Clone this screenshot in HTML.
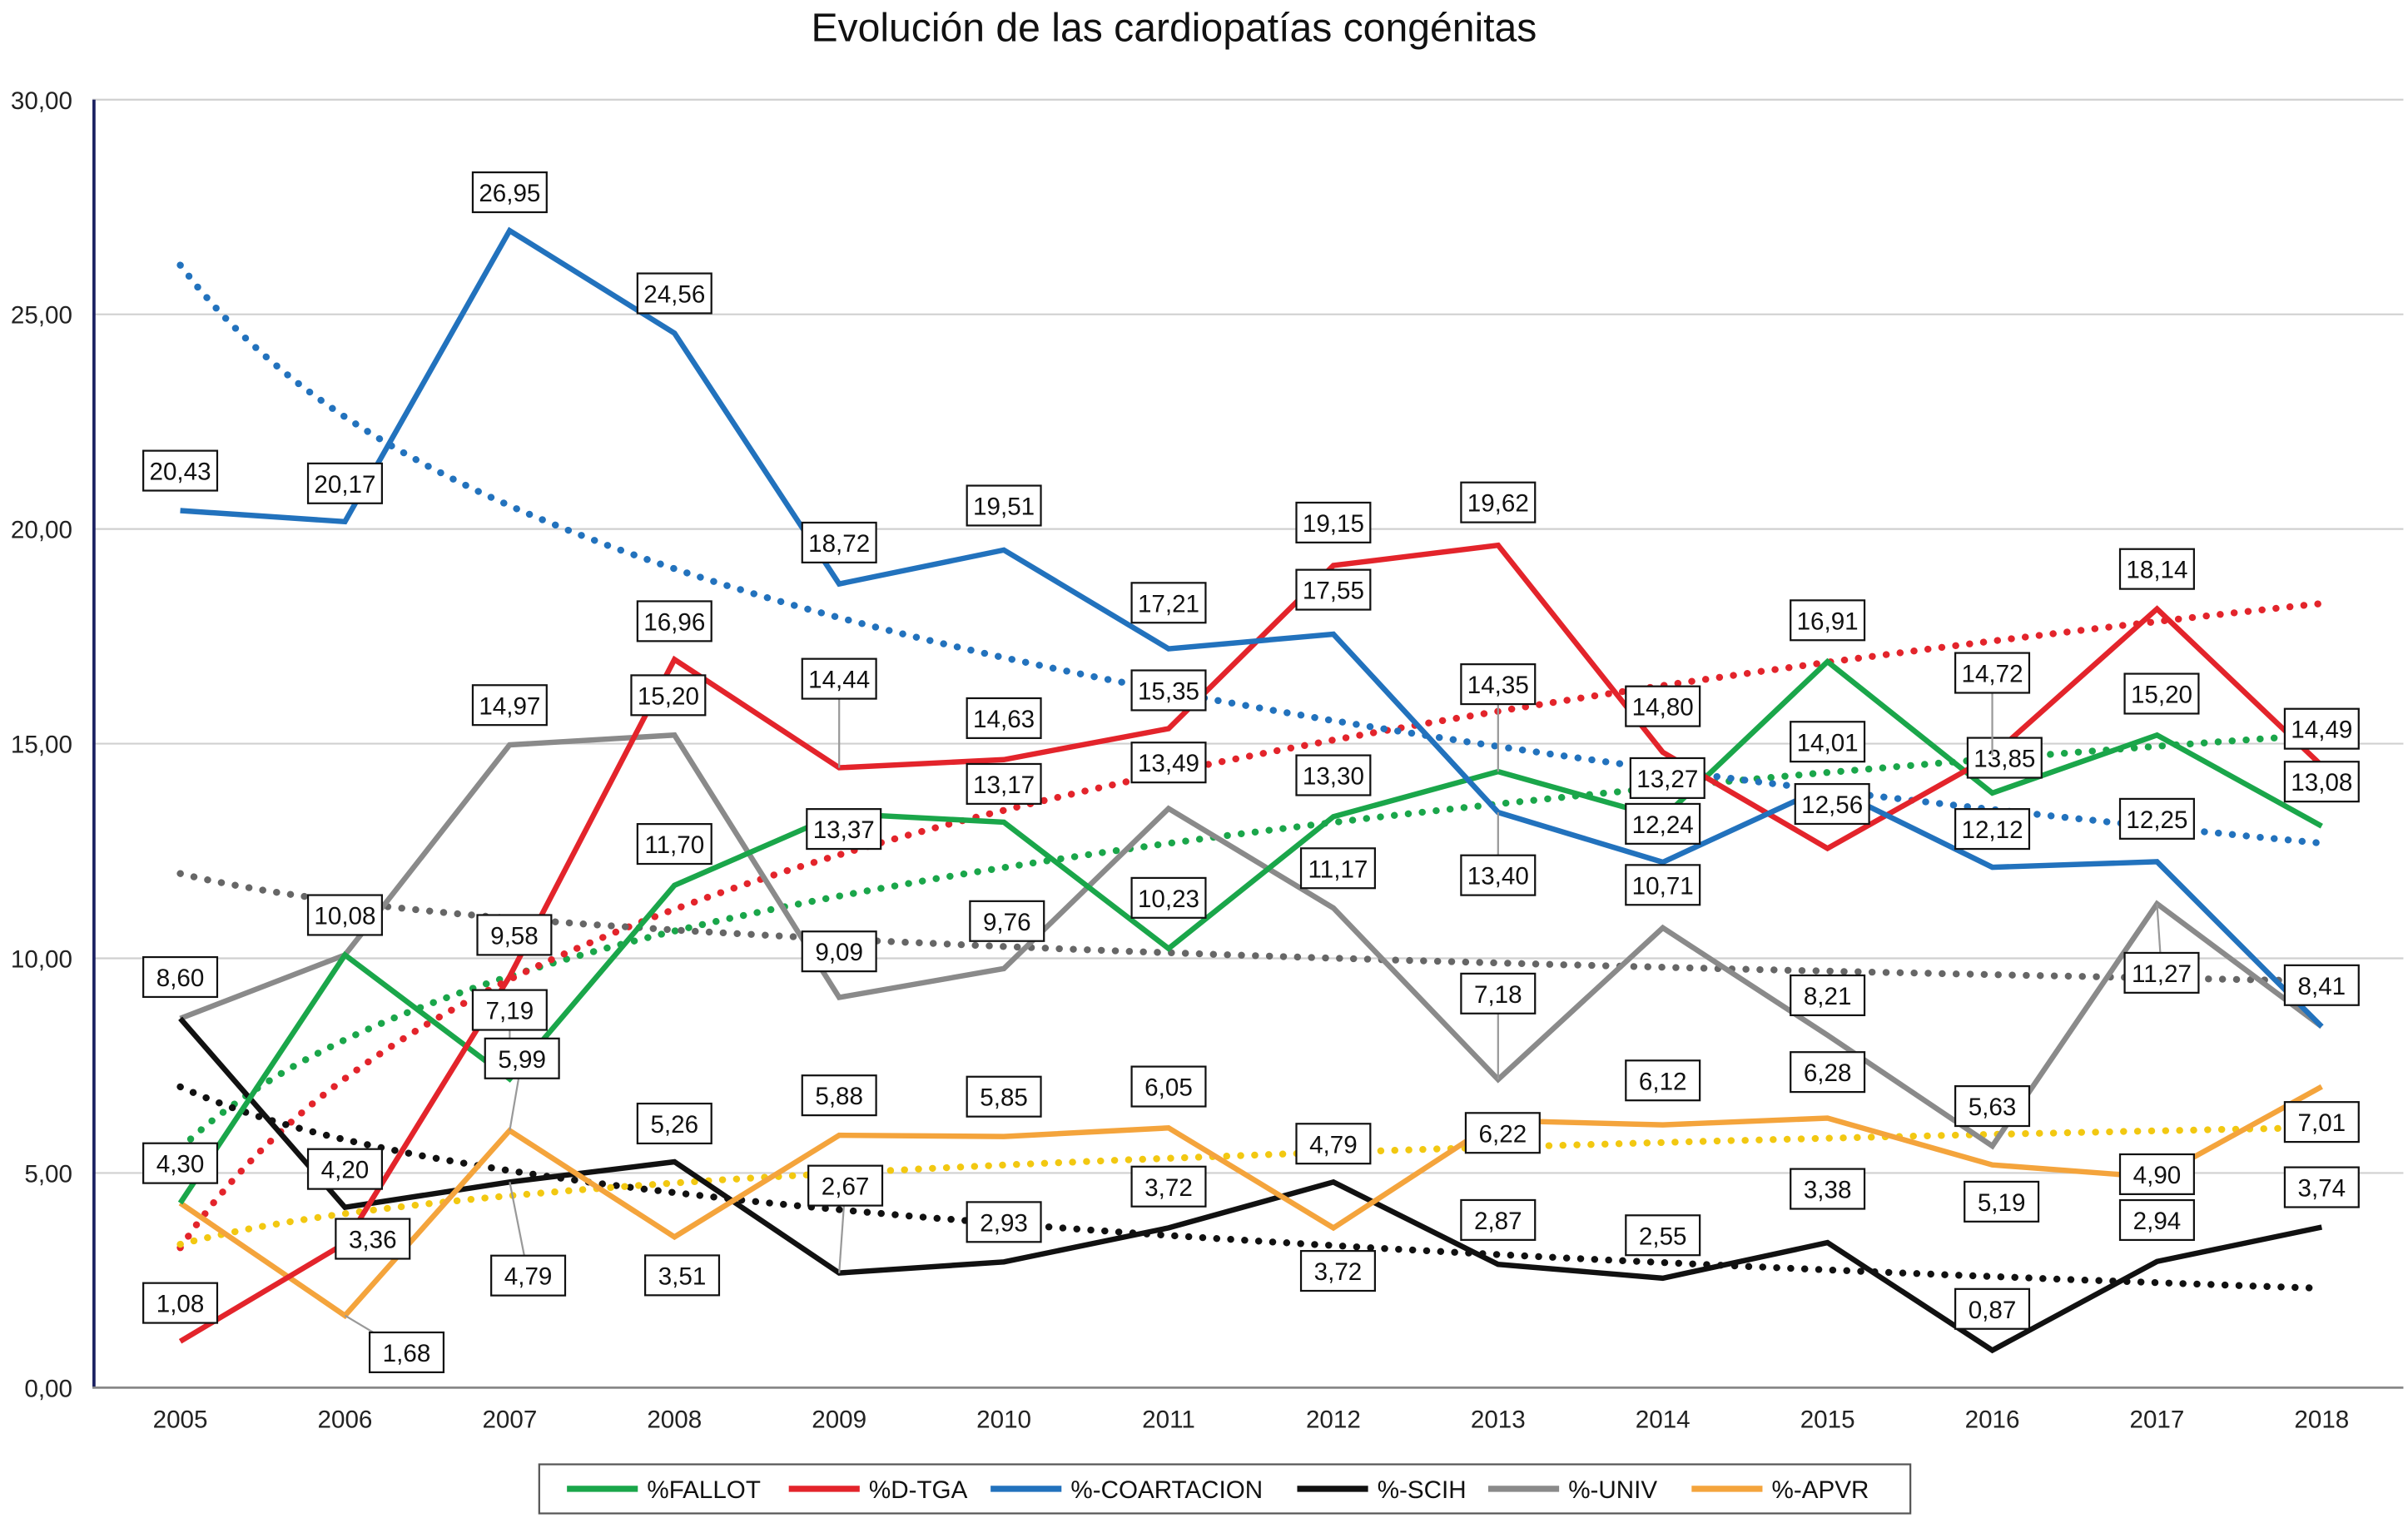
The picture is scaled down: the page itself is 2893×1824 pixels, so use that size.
<!DOCTYPE html>
<html><head><meta charset="utf-8"><style>
html,body{margin:0;padding:0;background:#fff}
svg{display:block;font-family:"Liberation Sans",sans-serif}
</style></head><body>
<svg id="chart" width="2893" height="1824" viewBox="0 0 1563 990" preserveAspectRatio="none" xmlns="http://www.w3.org/2000/svg">
<rect width="1563" height="990" fill="#fff"/>
<text x="762" y="27" font-size="26" text-anchor="middle" fill="#111">Evolución de las cardiopatías congénitas</text>
<g id="grid"></g><g id="trends"></g><g id="lines"></g><g id="labels"></g><g id="legend"></g>
</svg>
<script>
const years=[2005,2006,2007,2008,2009,2010,2011,2012,2013,2014,2015,2016,2017,2018];
const yTicks=[0,5,10,15,20,25,30];
const seriesNames=["%FALLOT","%D-TGA","%-COARTACION","%-SCIH","%-UNIV","%-APVR"];
const fallot=[4.30,10.08,7.19,11.70,13.37,13.17,10.23,13.30,14.35,13.27,16.91,13.85,15.20,13.08];
const dtga=[1.08,3.36,9.58,16.96,14.44,14.63,15.35,19.15,19.62,14.80,12.56,14.72,18.14,14.49];
const coart=[20.43,20.17,26.95,24.56,18.72,19.51,17.21,17.55,13.40,12.24,14.01,12.12,12.25,8.41];
const scih=[8.60,4.20,4.79,5.26,2.67,2.93,3.72,4.79,2.87,2.55,3.38,0.87,2.94,3.74];
const univ=[8.60,10.08,14.97,15.20,9.09,9.76,13.49,11.17,7.18,10.71,8.21,5.63,11.27,8.41];
const apvr=[4.30,1.68,5.99,3.51,5.88,5.85,6.05,3.72,6.22,6.12,6.28,5.19,4.90,7.01];
const seriesValues=[fallot,dtga,coart,scih,univ,apvr];
const colors=["#1aa64a","#e3242b","#2272bd","#111111","#8a8a8a","#f4a43c"];
const trendColors=["#1aa64a","#e3242b","#2272bd","#111111","#666666","#f2c811"];
// label offsets (layout, px)
const ldy=[[-26,-26,-45,-27,10,-25,-33,-27,-57,-26,-27,-23,-27,-29],
[-25,-3,-27,-25,-58,-27,-25,-28,-28,-30,-29,-54,-26,-24],
[-26,-25,-25,-26,-27,-29,-30,-29,41,-25,-29,-25,-28,-27],
[0,-25,61,-25,-57,-26,-27,-25,-29,-28,-35,-27,-27,-26],
[-27,0,-26,-26,-30,-31,-30,-26,-56,-28,-26,-26,45,0],
[0,24,-47,25,-26,-26,-27,28,8,-29,-30,24,-2,23]];
const ldx=[[0,0,0,0,3,0,0,0,0,3,0,8,3,0],[0,18,3,0,0,0,0,0,0,0,3,0,0,0],[0,0,0,0,0,0,0,0,0,0,0,0,0,0],
[0,0,12,0,4,0,0,0,0,0,0,0,0,0],[0,0,0,-4,0,2,0,3,0,0,0,0,3,0],[0,40,8,5,0,0,0,3,3,0,0,6,0,0]];
const hide=[[0,0,0,0,0,0,0,0,0,0,0,0,0,0],[0,0,0,0,0,0,0,0,0,0,0,0,0,0],[0,0,0,0,0,0,0,0,0,0,0,0,0,0],
[1,0,0,0,0,0,0,0,0,0,0,0,0,0],[0,1,0,0,0,0,0,0,0,0,0,0,0,1],[1,0,0,0,0,0,0,0,0,0,0,0,0,0]];
const NS="http://www.w3.org/2000/svg";
const X=i=>117+i*(1507-117)/(years.length-1);
const Y=v=>905-v*28;
function mk(tag,attrs,parent){const e=document.createElementNS(NS,tag);for(const k in attrs)e.setAttribute(k,attrs[k]);parent.appendChild(e);return e;}
const grid=document.getElementById('grid');
yTicks.forEach(t=>{
  if(t>0){const g=mk('line',{x1:60,x2:1560,y1:Y(t),y2:Y(t),stroke:'#d0d0d0','stroke-width':1.2},grid);
  
  }
  const tx=mk('text',{x:47,y:Y(t)+6,'font-size':16,'text-anchor':'end',fill:'#222'},grid);
  tx.textContent=t.toFixed(2).replace('.',',');
  
  
});
const ax=mk('line',{x1:61,x2:61,y1:65,y2:905,stroke:'#1a2060','stroke-width':2},grid);


const bx=mk('line',{x1:60,x2:1560,y1:905,y2:905,stroke:'#888','stroke-width':1.5},grid);


years.forEach((y,i)=>{const t=mk('text',{x:X(i),y:931,'font-size':16,'text-anchor':'middle',fill:'#222'},grid);t.textContent=y;

});
const tr=document.getElementById('trends');
seriesValues.forEach((vals,s)=>{
  const n=vals.length;let sx=0,sy=0,sxx=0,sxy=0;
  vals.forEach((v,i)=>{const lx=Math.log(i+1);sx+=lx;sy+=v;sxx+=lx*lx;sxy+=lx*v;});
  const b=(n*sxy-sx*sy)/(n*sxx-sx*sx),a=(sy-b*sx)/n;
  let d='';for(let k=0;k<=130;k++){const t=k/10;const v=a+b*Math.log(t+1);d+=(k?'L':'M')+(117+t*(1390/13)).toFixed(1)+','+Y(v).toFixed(1);}
  const p=mk('path',{d:d,fill:'none',stroke:trendColors[s],'stroke-width':4.5,'stroke-dasharray':'0.1 9','stroke-linecap':'round'},tr);
  
  
});
const ln=document.getElementById('lines');
const order=[4,3,5,0,1,2];
order.forEach(s=>{
  const pts=seriesValues[s].map((v,i)=>X(i).toFixed(1)+','+Y(v).toFixed(1)).join(' ');
  const p=mk('polyline',{points:pts,fill:'none',stroke:colors[s],'stroke-width':3.5,'stroke-linejoin':'miter'},ln);
  
  
});
const lb=document.getElementById('labels');
seriesValues.forEach((vals,s)=>vals.forEach((v,i)=>{
  if(hide[s][i])return;
  const cx=X(i)+ldx[s][i],cy=Y(v)+ldy[s][i];
  if(Math.abs(ldy[s][i])>40||Math.abs(ldx[s][i])>15){
    const l=mk('line',{x1:X(i),y1:Y(v),x2:cx,y2:cy,stroke:'#999','stroke-width':1.2},lb);
    
    
  }
  const r=mk('rect',{x:cx-24,y:cy-13,width:48,height:26,fill:'#fff',stroke:'#111','stroke-width':1.2},lb);
  
  
  const t=mk('text',{x:cx,y:cy+6,'font-size':16,'text-anchor':'middle',fill:'#111'},lb);
  t.textContent=v.toFixed(2).replace('.',',');
  
  
}));
const lg=document.getElementById('legend');
const box=mk('rect',{x:350,y:955,width:890,height:32,fill:'#fff',stroke:'#555','stroke-width':1.2},lg);


const lx=[368,512,643,842,966,1098];
seriesNames.forEach((nm,s)=>{
  const g=mk('g',{},lg);
  
  
  mk('line',{x1:lx[s],x2:lx[s]+46,y1:971,y2:971,stroke:colors[s],'stroke-width':4},g);
  const t=mk('text',{x:lx[s]+52,y:977,'font-size':16,fill:'#111'},g);t.textContent=nm;
});
</script>
</body></html>
